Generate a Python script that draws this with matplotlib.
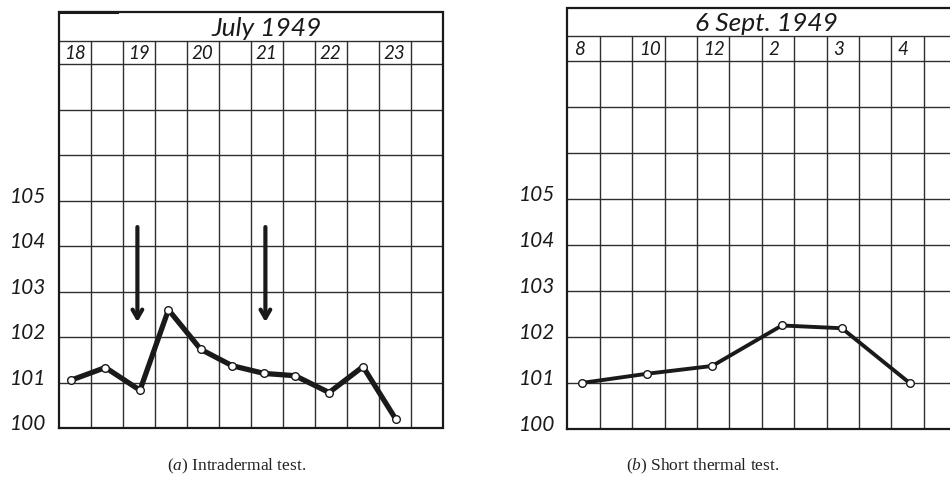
import matplotlib
matplotlib.use("Agg")
import matplotlib.pyplot as plt
from matplotlib.transforms import ScaledTranslation

# ---------------- data ----------------
left_title = "July 1949"
left_days = ["18", "19", "20", "21", "22", "23"]
left_day_cols = [0, 2, 4, 6, 8, 10]
left_slots = [0.37, 1.45, 2.53, 3.42, 4.43, 5.41, 6.41, 7.38, 8.44, 9.5, 10.52]
left_temps = [101.05, 101.33, 100.83, 102.6, 101.73, 101.37, 101.2, 101.15, 100.78, 101.35, 100.2]
arrow_slots = [2.45, 6.45]
arrow_top = 104.42
arrow_tip = 102.33

right_title = "6 Sept. 1949"
right_hours = ["8", "10", "12", "2", "3", "4"]
right_hour_cols = [0, 2, 4, 6, 8, 10]
right_slots = [0.44, 2.45, 4.47, 6.62, 8.47, 10.56]
right_temps = [101.0, 101.2, 101.37, 102.25, 102.19, 101.0]

y_ticks = [100, 101, 102, 103, 104, 105]
captions = ["(a) Intradermal test.", "(b) Short thermal test."]

# ---------------- style ----------------
plt.rcParams['mathtext.fontset'] = 'custom'
plt.rcParams['mathtext.rm'] = 'Liberation Serif'
plt.rcParams['mathtext.it'] = 'Liberation Serif:italic'
HAND = 'Lato'
INK = '#1a1a1a'
GRID = '#2e2e2e'

fig = plt.figure(figsize=(9.5, 4.85), dpi=100)
fig.patch.set_facecolor('white')


def chart(rect, ncols, grid_top, head_h, title_h, title, labels, label_cols,
          xs, ys, lw, title_dx, label_dx):
    ax = fig.add_axes(rect)
    top = grid_top + head_h + title_h
    ax.set_xlim(0, ncols)
    ax.set_ylim(100, top)
    for s in ax.spines.values():
        s.set_visible(False)
    # grid
    for v in range(101, grid_top + 1):
        ax.axhline(v, color=GRID, lw=1.0, zorder=1)
    ax.axhline(grid_top + head_h, color=GRID, lw=1.0, zorder=1)
    ax.vlines(range(1, ncols), 100, grid_top + head_h, color=GRID, lw=1.0, zorder=1)
    # outer box
    ax.plot([0, ncols, ncols, 0, 0], [100, 100, top, top, 100], color=INK, lw=1.6,
            zorder=2, clip_on=False, solid_joinstyle='miter')
    # title
    ax.text(ncols / 2 + title_dx, grid_top + head_h + title_h * 0.47, title,
            ha='center', va='center', fontsize=19, family=HAND, style='italic', color=INK)
    # header labels
    for lab, c in zip(labels, label_cols):
        ax.text(c + label_dx, grid_top + head_h / 2, lab, ha='left', va='center',
                fontsize=13.5, family=HAND, style='italic', color=INK)
    # y ticks
    ax.set_xticks([])
    ax.set_yticks(y_ticks)
    ax.set_yticklabels([str(t) for t in y_ticks], fontsize=15, family=HAND,
                       style='italic', color=INK)
    ax.tick_params(axis='y', length=0, pad=9)
    for t in ax.get_yticklabels():
        t.set_transform(t.get_transform() + ScaledTranslation(0, 5 / 72, fig.dpi_scale_trans))
    # data
    ax.plot(xs, ys, color=INK, lw=lw, zorder=3, solid_joinstyle='round',
            marker='o', ms=5.5, mfc='white', mec=INK, mew=1.0)
    return ax


axl = chart([59 / 950, 56 / 485, 384 / 950, 416 / 485], 12, 108, 0.51, 0.64,
            left_title, left_days, left_day_cols, left_slots, left_temps, 3.8, 0.5, 0.15)
# header scribble top-left
axl.plot([0, 1.8], [109.15, 109.15], color=INK, lw=2.2, zorder=3, clip_on=False)
for xa in arrow_slots:
    axl.annotate('', xy=(xa, arrow_tip), xytext=(xa, arrow_top),
                 arrowprops=dict(arrowstyle='->,head_width=0.35,head_length=0.6',
                                 color=INK, lw=3.0, shrinkA=0, shrinkB=0), zorder=4)

axr = chart([567.3 / 950, 55 / 485, 389 / 950, 421 / 485], 12, 108, 0.54, 0.61,
            right_title, right_hours, right_hour_cols, right_slots, right_temps, 2.8, 0.15, 0.2)

fig.text(237 / 950, 19 / 485, r'($\it{a}$) Intradermal test.', ha='center', va='center',
         fontsize=12.5, family='Liberation Serif', color='#222222')
fig.text(703 / 950, 19 / 485, r'($\it{b}$) Short thermal test.', ha='center', va='center',
         fontsize=12.5, family='Liberation Serif', color='#222222')

fig.savefig('out.png', dpi=100, facecolor='white')
